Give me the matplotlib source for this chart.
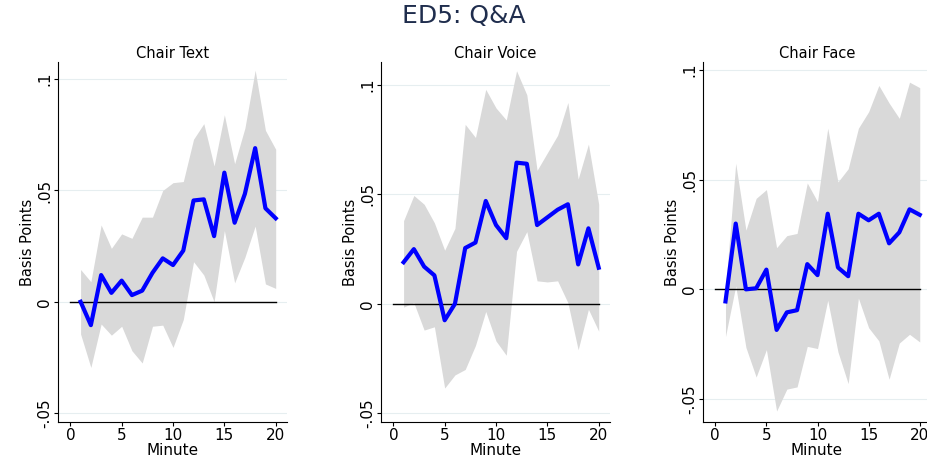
import numpy as np
import matplotlib
matplotlib.use('Agg')
from matplotlib import pyplot as plt

minute = np.arange(1, 21)

text_mean = [0, -0.0105, 0.012, 0.004, 0.0095, 0.003, 0.005, 0.013, 0.0195, 0.0165,
             0.023, 0.0455, 0.046, 0.0295, 0.058, 0.0355, 0.0485, 0.069, 0.042, 0.0375]
text_hi = [0.0145, 0.009, 0.0345, 0.024, 0.0305, 0.0285, 0.038, 0.038, 0.05, 0.0535,
           0.054, 0.073, 0.080, 0.061, 0.084, 0.062, 0.078, 0.104, 0.077, 0.0685]
text_lo = [-0.0145, -0.0295, -0.010, -0.015, -0.011, -0.022, -0.0275, -0.011, -0.0105, -0.0205,
           -0.008, 0.018, 0.012, 0.0, 0.032, 0.0085, 0.02, 0.034, 0.008, 0.006]

voice_mean = [0.019, 0.025, 0.017, 0.013, -0.0075, 0.0, 0.0255, 0.028, 0.047, 0.036,
              0.030, 0.0645, 0.064, 0.036, 0.0395, 0.043, 0.0455, 0.018, 0.0345, 0.0165]
voice_hi = [0.038, 0.0495, 0.0455, 0.037, 0.0245, 0.0345, 0.082, 0.076, 0.098, 0.0895,
            0.084, 0.1065, 0.0955, 0.061, 0.069, 0.077, 0.092, 0.057, 0.073, 0.0455]
voice_lo = [-0.0015, 0.0005, -0.012, -0.0105, -0.0385, -0.0325, -0.030, -0.019, -0.0035, -0.017,
            -0.0235, 0.024, 0.033, 0.0105, 0.010, 0.0105, 0.0005, -0.021, -0.0025, -0.0125]

face_mean = [-0.0055, 0.030, 0.0, 0.0005, 0.009, -0.0185, -0.0105, -0.0095, 0.0115, 0.0065,
             0.0345, 0.010, 0.006, 0.0345, 0.0315, 0.0345, 0.021, 0.026, 0.0365, 0.034]
face_hi = [0.0, 0.0575, 0.027, 0.0415, 0.0455, 0.019, 0.0245, 0.0255, 0.0485, 0.040,
           0.0735, 0.049, 0.055, 0.0735, 0.081, 0.093, 0.085, 0.078, 0.0945, 0.092]
face_lo = [-0.0215, 0.0015, -0.0265, -0.040, -0.0275, -0.0555, -0.0455, -0.0445, -0.026, -0.027,
           -0.005, -0.0285, -0.043, -0.004, -0.0175, -0.0235, -0.041, -0.0245, -0.0205, -0.024]

panels = [
    ('Chair Text', text_mean, text_lo, text_hi, [58, 287], (-0.054, 0.1077)),
    ('Chair Voice', voice_mean, voice_lo, voice_hi, [381, 610], (-0.054, 0.1105)),
    ('Chair Face', face_mean, face_lo, face_hi, [703, 931], (-0.0605, 0.1037)),
]

W, H = 928, 459
fig = plt.figure(figsize=(W/100, H/100), dpi=100)
fig.text(0.5, 0.965, 'ED5: Q&A', ha='center', va='center', fontsize=18, color='#1f2d4d')

for title, mean, lo, hi, (x0, x1), ylim in panels:
    ax = fig.add_axes([x0/W, 1 - 422/H, (x1 - x0)/W, (422 - 62)/H])
    ax.fill_between(minute, lo, hi, color='#d9d9d9', lw=0)
    ax.plot([0, 20], [0, 0], color='black', lw=1)
    ax.plot(minute, mean, color='#0000ff', lw=3)
    ax.set_xlim(-1.2, 21.1)
    ax.set_ylim(*ylim)
    ax.set_xticks([0, 5, 10, 15, 20])
    ax.set_yticks([-0.05, 0, 0.05, 0.1])
    ax.set_yticklabels(['-.05', '0', '.05', '.1'], rotation=90, va='center')
    ax.grid(axis='y', color='#e6eef0', lw=0.8)
    ax.set_axisbelow(True)
    for s in ['top', 'right']:
        ax.spines[s].set_visible(False)
    ax.tick_params(labelsize=11, length=3, pad=1)
    ax.set_title(title, fontsize=10.5, pad=3)
    ax.set_xlabel('Minute', fontsize=11, labelpad=0)
    ax.set_ylabel('Basis Points', fontsize=10.5, labelpad=2)

fig.savefig('out.png', dpi=100)
